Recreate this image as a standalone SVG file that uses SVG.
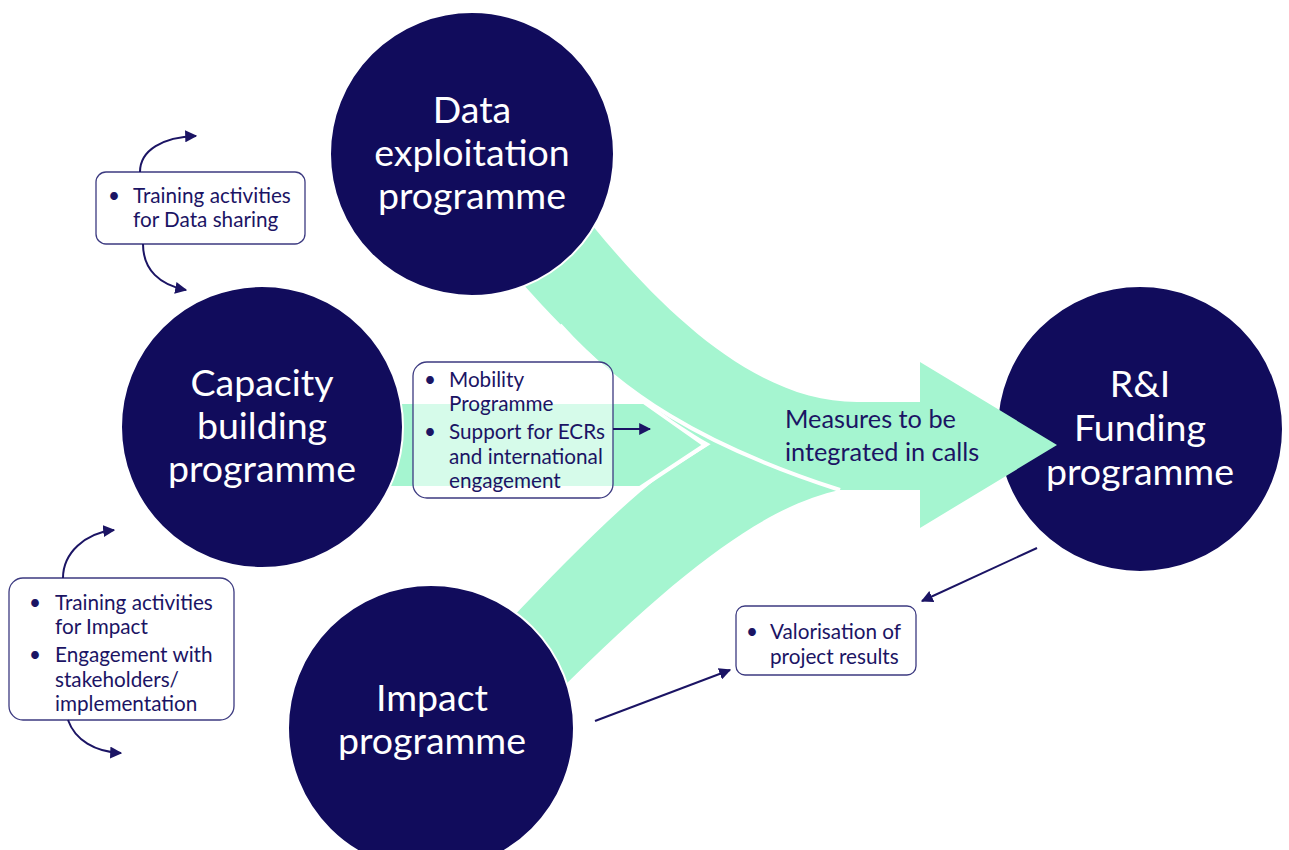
<svg xmlns="http://www.w3.org/2000/svg" width="1289" height="850" viewBox="0 0 1289 850">
<defs>
<style>
.circ{fill:#110c5c;stroke:#ffffff;stroke-width:2}
.band{fill:#a5f5d0}
.ct{fill:#ffffff;font-family:Lato,"Liberation Sans",sans-serif;font-size:37.5px;text-anchor:middle}
.bt{fill:#1b1464;font-family:Lato,"Liberation Sans",sans-serif;font-size:20.7px}
.mt{fill:#1b1464;font-family:Lato,"Liberation Sans",sans-serif;font-size:25.3px}
.box{fill:#ffffff;stroke:#3c3a80;stroke-width:1.3}
.con{fill:none;stroke:#1b1464;stroke-width:2}
</style>
<marker id="ah" viewBox="0 0 10 10" refX="9" refY="5" markerWidth="6" markerHeight="6" orient="auto" markerUnits="strokeWidth">
<path d="M0,0 L10,5 L0,10 Z" fill="#1b1464"/>
</marker>
</defs>
<rect width="1289" height="850" fill="#ffffff"/>

<g id="node-rif">
<circle class="circ" cx="1140" cy="429" r="143"/>
</g>

<g id="flow">
<path class="band" d="M505,625 C560,568 610,515 660,476 L730,432 L840,490 C770,505 690,560 555,695 Z"/>
<path class="band" d="M380,402 L644,402 L705,445 L640,488 L380,488 Z" stroke="#ffffff" stroke-width="4"/>
<path class="band" d="M592,225 C670,320 760,402 857,402 L920,402 L920,362 L1057,445 L920,528 L920,490 L840,490 C760,480 650,430 515,275 Z"/>
<path d="M560,325 C620,392 700,445 840,490" fill="none" stroke="#ffffff" stroke-width="4"/>
<text class="mt" x="785" y="428">Measures to be</text>
<text class="mt" x="785" y="461">integrated in calls</text>
</g>

<g id="node-rif-label">
<text class="ct" x="1140" y="397">R&amp;I</text>
<text class="ct" x="1140" y="441">Funding</text>
<text class="ct" x="1140" y="485">programme</text>
</g>

<g id="node-data">
<circle class="circ" cx="472" cy="154" r="142"/>
<text class="ct" x="472" y="123">Data</text>
<text class="ct" x="472" y="166">exploitation</text>
<text class="ct" x="472" y="209">programme</text>
</g>

<g id="node-capacity">
<circle class="circ" cx="262" cy="427" r="141"/>
<text class="ct" x="262" y="396">Capacity</text>
<text class="ct" x="262" y="439">building</text>
<text class="ct" x="262" y="482">programme</text>
</g>

<g id="node-impact">
<circle class="circ" cx="431" cy="728" r="143"/>
<text class="ct" x="432" y="711">Impact</text>
<text class="ct" x="432" y="754">programme</text>
</g>

<g id="box-mobility">
<rect x="413" y="362" width="200" height="136" rx="14" class="box" fill-opacity="0.55"/>
<text class="bt" x="424" y="387">•</text>
<text class="bt" x="449" y="387">Mobility</text>
<text class="bt" x="449" y="411">Programme</text>
<text class="bt" x="424" y="439">•</text>
<text class="bt" x="449" y="439">Support for ECRs</text>
<text class="bt" x="449" y="464">and international</text>
<text class="bt" x="449" y="488">engagement</text>
</g>

<g id="box-training-data">
<rect x="96" y="172" width="209" height="72" rx="10" class="box"/>
<text class="bt" x="108" y="203">•</text>
<text class="bt" x="133" y="203">Training activities</text>
<text class="bt" x="133" y="227">for Data sharing</text>
</g>

<g id="box-training-impact">
<rect x="9" y="578" width="225" height="142" rx="14" class="box"/>
<text class="bt" x="29" y="610">•</text>
<text class="bt" x="55" y="610">Training activities</text>
<text class="bt" x="55" y="634">for Impact</text>
<text class="bt" x="29" y="662">•</text>
<text class="bt" x="55" y="662">Engagement with</text>
<text class="bt" x="55" y="687">stakeholders/</text>
<text class="bt" x="55" y="711">implementation</text>
</g>

<g id="box-valorisation">
<rect x="736" y="606" width="180" height="69" rx="9" class="box"/>
<text class="bt" x="746" y="639">•</text>
<text class="bt" x="770" y="639">Valorisation of</text>
<text class="bt" x="770" y="664">project results</text>
</g>

<g id="connectors">
<path class="con" d="M140,172 C140,150 163,137 196,136" marker-end="url(#ah)"/>
<path class="con" d="M143,244 C143,270 160,285 186,290" marker-end="url(#ah)"/>
<path class="con" d="M63,578 C63,553 85,533 114,530" marker-end="url(#ah)"/>
<path class="con" d="M68,720 C75,740 95,752 121,753" marker-end="url(#ah)"/>
<path class="con" d="M613,429 L650,429" marker-end="url(#ah)"/>
<path class="con" d="M1037,548 L922,601" marker-end="url(#ah)"/>
<path class="con" d="M595,721 L730,670" marker-end="url(#ah)"/>
</g>
</svg>
